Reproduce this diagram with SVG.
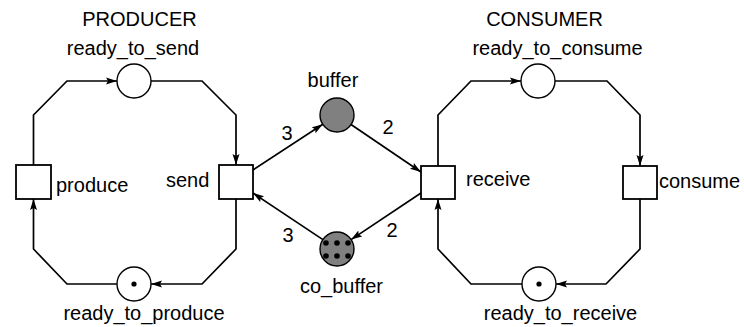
<svg xmlns="http://www.w3.org/2000/svg" width="744" height="327" viewBox="0 0 744 327">
  <defs>
    <marker id="arrow" markerUnits="userSpaceOnUse" markerWidth="12" markerHeight="10" refX="11" refY="4" orient="auto">
      <path d="M0,0.5 L11,4 L0,7.5 L2,4 Z" fill="#000"/>
    </marker>
    <style>
      .lbl { font-family: "Liberation Sans", Arial, sans-serif; font-size: 20px; fill: #000; }
      .mid { text-anchor: middle; }
      .place { fill: #fff; stroke: #000; stroke-width: 1.4; }
      .full { fill: #808080; stroke: #000; stroke-width: 1.4; }
      .trans { fill: #fff; stroke: #000; stroke-width: 1.8; }
      .arc { fill: none; stroke: #000; stroke-width: 1.7; stroke-linejoin: miter; }
      .arc-end { marker-end: url(#arrow); }
      .tok { fill: #000; }
    </style>
  </defs>
  <rect width="744" height="327" fill="#fff"/>

  <!-- section titles -->
  <text class="lbl mid" x="139.5" y="26">PRODUCER</text>
  <text class="lbl mid" x="544.5" y="26">CONSUMER</text>

  <!-- connectors -->
  <g id="arcs">
    <!-- producer loop -->
    <polyline class="arc arc-end" points="33.5,165 33.5,115 67,81 117,81"/>
    <polyline class="arc arc-end" points="151,81 202,81 236,115 236,165"/>
    <polyline class="arc arc-end" points="236,199 236,249 202,284 151,284"/>
    <polyline class="arc arc-end" points="117,284 67,284 33.5,249 33.5,199"/>
    <!-- consumer loop -->
    <polyline class="arc arc-end" points="438,166 438,115 471,81 521,81"/>
    <polyline class="arc arc-end" points="555,81 607,81 640,115 640,166"/>
    <polyline class="arc arc-end" points="640,199 640,249 606,284 556,284"/>
    <polyline class="arc arc-end" points="522,284 471,284 438,249 438,199"/>
    <!-- buffer exchange -->
    <line class="arc arc-end" x1="253" y1="170" x2="322.8" y2="124.3"/>
    <line class="arc arc-end" x1="351" y1="124.5" x2="421" y2="172"/>
    <line class="arc arc-end" x1="421" y1="193" x2="351.1" y2="239.6"/>
    <line class="arc arc-end" x1="322.9" y1="239.6" x2="253" y2="193"/>
    <!-- arc weights -->
    <text class="lbl mid" x="287" y="140">3</text>
    <text class="lbl mid" x="388" y="134">2</text>
    <text class="lbl mid" x="392" y="237">2</text>
    <text class="lbl mid" x="288" y="242">3</text>
  </g>

  <!-- producer -->
  <g id="ready_to_send">
    <circle class="place" cx="134" cy="81" r="17"/>
    <text class="lbl mid" x="133" y="55">ready_to_send</text>
  </g>
  <g id="produce">
    <rect class="trans" x="16" y="165" width="35" height="34"/>
    <text class="lbl" x="56" y="192">produce</text>
  </g>
  <g id="send">
    <rect class="trans" x="219" y="165" width="34" height="34"/>
    <text class="lbl" x="166" y="187">send</text>
  </g>
  <g id="ready_to_produce">
    <circle class="place" cx="134" cy="284" r="17"/>
    <circle class="tok" cx="134" cy="284" r="2.6"/>
    <text class="lbl mid" x="144" y="320">ready_to_produce</text>
  </g>

  <!-- shared places -->
  <g id="buffer">
    <circle class="full" cx="337" cy="115" r="17"/>
    <text class="lbl mid" x="333" y="87">buffer</text>
  </g>
  <g id="co_buffer">
    <circle class="full" cx="337" cy="249" r="17"/>
    <circle class="tok" cx="326" cy="243" r="2.8"/>
    <circle class="tok" cx="337" cy="243" r="2.8"/>
    <circle class="tok" cx="348" cy="243" r="2.8"/>
    <circle class="tok" cx="326" cy="256" r="2.8"/>
    <circle class="tok" cx="337" cy="256" r="2.8"/>
    <circle class="tok" cx="348" cy="256" r="2.8"/>
    <text class="lbl mid" x="341.5" y="293">co_buffer</text>
  </g>

  <!-- consumer -->
  <g id="ready_to_consume">
    <circle class="place" cx="538" cy="81" r="17"/>
    <text class="lbl mid" x="557.5" y="55">ready_to_consume</text>
  </g>
  <g id="receive">
    <rect class="trans" x="421" y="166" width="34" height="33"/>
    <text class="lbl" x="466" y="186">receive</text>
  </g>
  <g id="consume">
    <rect class="trans" x="623" y="166" width="34" height="33"/>
    <text class="lbl" x="659" y="188">consume</text>
  </g>
  <g id="ready_to_receive">
    <circle class="place" cx="539" cy="284" r="17"/>
    <circle class="tok" cx="539" cy="284" r="2.6"/>
    <text class="lbl mid" x="560.5" y="320">ready_to_receive</text>
  </g>
</svg>
